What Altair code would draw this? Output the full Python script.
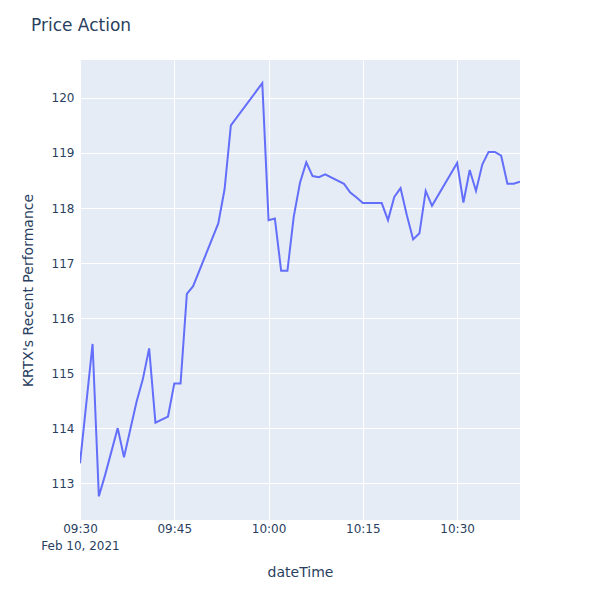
import altair as alt
import pandas as pd

times = ["09:30", "09:32", "09:33", "09:34", "09:36", "09:37", "09:39", "09:40", "09:41", "09:42",
         "09:44", "09:45", "09:46", "09:47", "09:48", "09:52", "09:53", "09:54", "09:59", "10:00",
         "10:01", "10:02", "10:03", "10:04", "10:05", "10:06", "10:07", "10:08", "10:09", "10:12",
         "10:13", "10:14", "10:15", "10:18", "10:19", "10:20", "10:21", "10:22", "10:23", "10:24",
         "10:25", "10:26", "10:30", "10:31", "10:32", "10:33", "10:34", "10:35", "10:36", "10:37",
         "10:38", "10:39", "10:40"]
prices = [113.36, 115.53, 112.76, 113.15, 114.00, 113.47, 114.48, 114.89, 115.45, 114.10,
          114.21, 114.81, 114.81, 116.44, 116.58, 117.72, 118.34, 119.50, 120.27, 117.78,
          117.81, 116.86, 116.86, 117.84, 118.46, 118.83, 118.58, 118.56, 118.61, 118.44,
          118.28, 118.19, 118.09, 118.09, 117.78, 118.20, 118.36, 117.87, 117.43, 117.54,
          118.31, 118.04, 118.82, 118.10, 118.69, 118.31, 118.79, 119.02, 119.02, 118.95,
          118.44, 118.44, 118.48]
tick_times = ["09:30", "09:45", "10:00", "10:15", "10:30"]
y_ticks = [113, 114, 115, 116, 117, 118, 119, 120]

df = pd.DataFrame({
    "dateTime": ["2021-02-10T" + t + ":00Z" for t in times],
    "price": prices,
})

def dt(t):
    h, m = t.split(":")
    return alt.DateTime(year=2021, month=2, date=10, hours=int(h), minutes=int(m), utc=True)

FONT = "DejaVu Sans"
TXT = "#2a3f5f"

chart = alt.Chart(df).mark_line(color="#636EFA", strokeWidth=2, clip=True).encode(
    x=alt.X("dateTime:T",
            scale=alt.Scale(type="utc", domain=[dt("09:30"), dt("10:40")], nice=False),
            axis=alt.Axis(values=[dt(t) for t in tick_times],
                          labelExpr="utcFormat(datum.value, '%H:%M') == '09:30' ? ['09:30', 'Feb 10, 2021'] : utcFormat(datum.value, '%H:%M')",
                          ticks=False, domain=False, grid=True, gridColor="white", gridWidth=1,
                          labelPadding=3, labelFontSize=12, labelColor=TXT, labelFont=FONT,
                          labelLineHeight=17, labelAlign="center", labelFlush=False,
                          title="dateTime", titleFontSize=14, titleColor=TXT, titleFont=FONT,
                          titleFontWeight="normal", titleX=220, titleY=52,
                          titleAlign="center", titleBaseline="middle")),
    y=alt.Y("price:Q",
            scale=alt.Scale(domain=[112.33, 120.69], nice=False, zero=False),
            axis=alt.Axis(values=y_ticks, ticks=False, domain=False, grid=True,
                          gridColor="white", gridWidth=1, labelPadding=6,
                          labelFontSize=12, labelColor=TXT, labelFont=FONT,
                          title="KRTX's Recent Performance", titleFontSize=14,
                          titleColor=TXT, titleFont=FONT, titleFontWeight="normal",
                          titleX=-52, titleY=230, titleAngle=270, titleAlign="center",
                          titleBaseline="middle")),
).properties(
    width=440, height=460,
    title=alt.TitleParams("Price Action", anchor="start", dx=10, offset=25,
                          fontSize=17, color=TXT, font=FONT, fontWeight="normal"),
    autosize=alt.AutoSizeParams(type="none"),
    padding={"left": 80, "top": 60, "right": 80, "bottom": 80},
    background="white",
).configure_view(fill="#E5ECF6", stroke=None)

chart.save("out.html", embed_options={"renderer": "svg", "actions": False})
